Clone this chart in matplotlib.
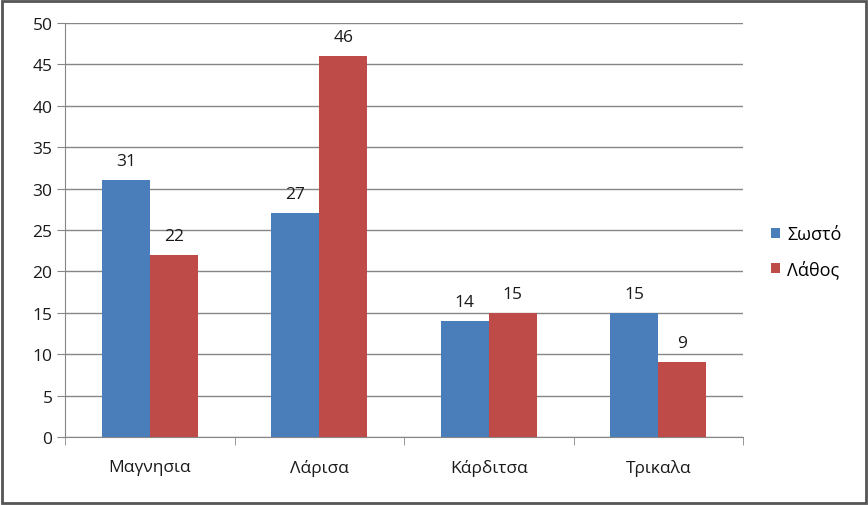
import matplotlib.pyplot as plt
import matplotlib.patches as patches
import numpy as np

# data
regions = ['Μαγνησια', 'Λάρισα', 'Κάρδιτσα', 'Τρικαλα']
correct = [31, 27, 14, 15]
wrong = [22, 46, 15, 9]
series_names = ['Σωστό', 'Λάθος']

plt.rcParams['font.family'] = ['Open Sans', 'DejaVu Sans']

fig = plt.figure(figsize=(8.68, 5.06), dpi=100)
ax = fig.add_axes([0.0749, 0.1344, 0.856 - 0.0749, 0.9526 - 0.1344])

x = np.arange(len(regions))
w = 0.283
b1 = ax.bar(x - w / 2, correct, w, color='#4A7EBB', label=series_names[0], zorder=3)
b2 = ax.bar(x + w / 2, wrong, w, color='#BE4B48', label=series_names[1], zorder=3)

for bars in (b1, b2):
    for r in bars:
        ax.annotate(str(int(r.get_height())), (r.get_x() + r.get_width() / 2, r.get_height()),
                    xytext=(0, 8), textcoords='offset points', ha='center', va='bottom',
                    fontsize=12.5, color='#1a1a1a')

ax.set_xlim(-0.5, len(regions) - 0.5)
ax.set_ylim(0, 50)
ax.set_yticks(range(0, 51, 5))
ax.yaxis.grid(True, color='#868686', linewidth=1, zorder=0)
ax.set_xticks(x)
ax.set_xticklabels(regions)
ax.set_xticks(np.arange(-0.5, len(regions)), minor=True)
ax.tick_params(axis='x', which='major', length=0, pad=16, labelsize=12.5, labelcolor='#1a1a1a')
ax.tick_params(axis='x', which='minor', length=6, color='#868686', direction='out')
ax.tick_params(axis='y', length=6, color='#868686', labelsize=12.5, labelcolor='#1a1a1a', pad=3)

for s in ('top', 'right'):
    ax.spines[s].set_visible(False)
for s in ('left', 'bottom'):
    ax.spines[s].set_color('#868686')

fig.legend(loc='center left', bbox_to_anchor=(0.888, 0.5), frameon=False, fontsize=13,
           handlelength=0.5, handleheight=0.5, handletextpad=0.4, labelspacing=0.9,
           borderaxespad=0, borderpad=0)

fig.patches.append(patches.Rectangle((0.002, 0.003), 0.996, 0.994, transform=fig.transFigure,
                                     fill=False, edgecolor='#555555', linewidth=2))

fig.savefig('out.png', dpi=100)
